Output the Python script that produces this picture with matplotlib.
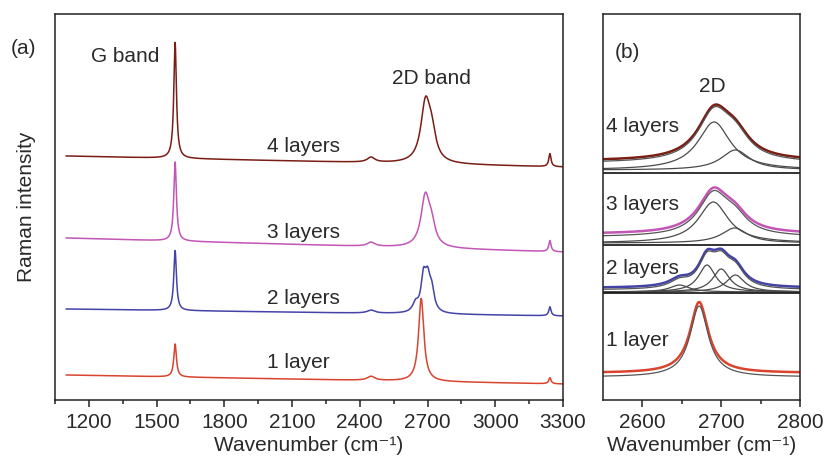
import numpy as np
import matplotlib
matplotlib.use("Agg")
import matplotlib.pyplot as plt

plt.rcParams['font.family'] = ['Liberation Sans', 'DejaVu Sans']

# ---------------- data ----------------
layers = ["1 layer", "2 layers", "3 layers", "4 layers"]
colors = ["#d9442f", "#4343a8", "#c255b6", "#7a1d15"]

# panel (a): baselines at left (1100) and right (3300) ends
base_left = [25, 91, 162, 244]
base_right = [16, 84, 148, 233]
g_pos = [1582, 1582, 1582, 1582]
g_height = [33, 60, 79, 116]
g_fwhm = [14, 14, 14, 14]
d2_height_a = [83, 48, 56, 68]
bump_pos = [2450, 2450, 2450, 2450]
bump_height = [4, 3, 4, 5]
bump_fwhm = [40, 40, 40, 40]
dp_pos = [3242, 3242, 3242, 3242]
dp_height = [6, 9, 11, 13]
dp_fwhm = [12, 12, 12, 12]

# panel (b): 2D band components per layer
comp_centers = [[2672], [2647, 2682, 2700, 2718], [2690, 2717], [2691, 2718]]
comp_heights = [[71], [7, 27, 23, 17], [41, 15], [48, 20]]
comp_fwhm = [[28], [30, 26, 26, 28], [46, 40], [50, 44]]
data_base_b = [27, 112, 166, 239]
fit_base_b = [23, 110, 163, 237]
comp_base_b = [23, 108, 157, 230]
separators_b = [107, 155, 227]

xticks_a = [1200, 1500, 1800, 2100, 2400, 2700, 3000, 3300]
xticks_b = [2600, 2700, 2800]

label_y_a = [38, 101, 168, 253]
label_y_b = [60, 132, 195, 274]


def lorentz(x, c, h, w):
    g = w / 2.0
    return h / (1.0 + ((x - c) / g) ** 2)


def comp_sum(x, i):
    return sum(lorentz(x, c, h, w) for c, h, w in
               zip(comp_centers[i], comp_heights[i], comp_fwhm[i]))


# ---------------- figure ----------------
W, H = 826, 461
fig = plt.figure(figsize=(W / 100, H / 100), dpi=100)
txt = "#2a2a2a"
fs = 15
xlabel = "Wavenumber (cm\u207b\u00b9)"


def fig_axes(l, t, r, b):
    return fig.add_axes([l / W, 1 - b / H, (r - l) / W, (b - t) / H])


axa = fig_axes(55, 14, 563, 400)
axb = fig_axes(603, 14, 800, 400)

xa = np.linspace(1100, 3300, 4000)
xa_fine = np.linspace(2550, 2850, 600)
for i in range(4):
    base = base_left[i] + (base_right[i] - base_left[i]) * (xa - 1100) / 2200
    peak2d = comp_sum(xa, i)
    peak2d = peak2d / comp_sum(xa_fine, i).max() * d2_height_a[i]
    y = (base + lorentz(xa, g_pos[i], g_height[i], g_fwhm[i]) + peak2d
         + lorentz(xa, bump_pos[i], bump_height[i], bump_fwhm[i])
         + lorentz(xa, dp_pos[i], dp_height[i], dp_fwhm[i]))
    axa.plot(xa, y, color=colors[i], lw=1.1)
    axa.text(1990, label_y_a[i], layers[i], fontsize=fs, color=txt,
             ha='left', va='center')

axa.set_xlim(1100, 3300)
axa.set_ylim(0, 386)
axa.set_xticks(xticks_a)
axa.set_xticks([t - 150 for t in xticks_a], minor=True)
axa.set_yticks([])
axa.text(1208, 344, "G band", fontsize=fs, color=txt, ha='left', va='center')
axa.text(2717, 322, "2D band", fontsize=fs, color=txt, ha='center', va='center')
axa.set_xlabel(xlabel, fontsize=fs, color=txt, labelpad=3)
axa.set_ylabel("Raman intensity", fontsize=fs, color=txt, labelpad=14)

xb = np.linspace(2550, 2800, 800)
for i in range(4):
    s = comp_sum(xb, i)
    axb.plot(xb, data_base_b[i] + s, color=colors[i], lw=1.8)
    axb.plot(xb, fit_base_b[i] + s, color="#555555", lw=0.9)
    if len(comp_centers[i]) > 1:
        for c, h, w in zip(comp_centers[i], comp_heights[i], comp_fwhm[i]):
            axb.plot(xb, comp_base_b[i] + lorentz(xb, c, h, w),
                     color="#4a4a4a", lw=0.9)
    axb.text(2554, label_y_b[i], layers[i], fontsize=fs, color=txt,
             ha='left', va='center')
for yv in separators_b:
    axb.axhline(yv, color="#111111", lw=1.2)

axb.set_xlim(2550, 2800)
axb.set_ylim(0, 386)
axb.set_xticks(xticks_b)
axb.set_xticks([2650, 2750], minor=True)
axb.set_yticks([])
axb.text(2565, 348, "(b)", fontsize=fs, color=txt, ha='left', va='center')
axb.text(2689, 313, "2D", fontsize=fs, color=txt, ha='center', va='center')
axb.set_xlabel(xlabel, fontsize=fs, color=txt, labelpad=3)

for ax in (axa, axb):
    for sp in ax.spines.values():
        sp.set_color("#222222")
        sp.set_linewidth(1.1)
    ax.tick_params(axis='x', which='major', direction='out', length=5,
                   width=1.1, labelsize=fs, labelcolor=txt, color="#222222", pad=4)
    ax.tick_params(axis='x', which='minor', direction='out', length=3,
                   width=1.1, color="#222222")

fig.text(23 / W, 1 - 48 / H, "(a)", fontsize=fs, color=txt,
         ha='center', va='center')

fig.savefig("out.png", dpi=100)
